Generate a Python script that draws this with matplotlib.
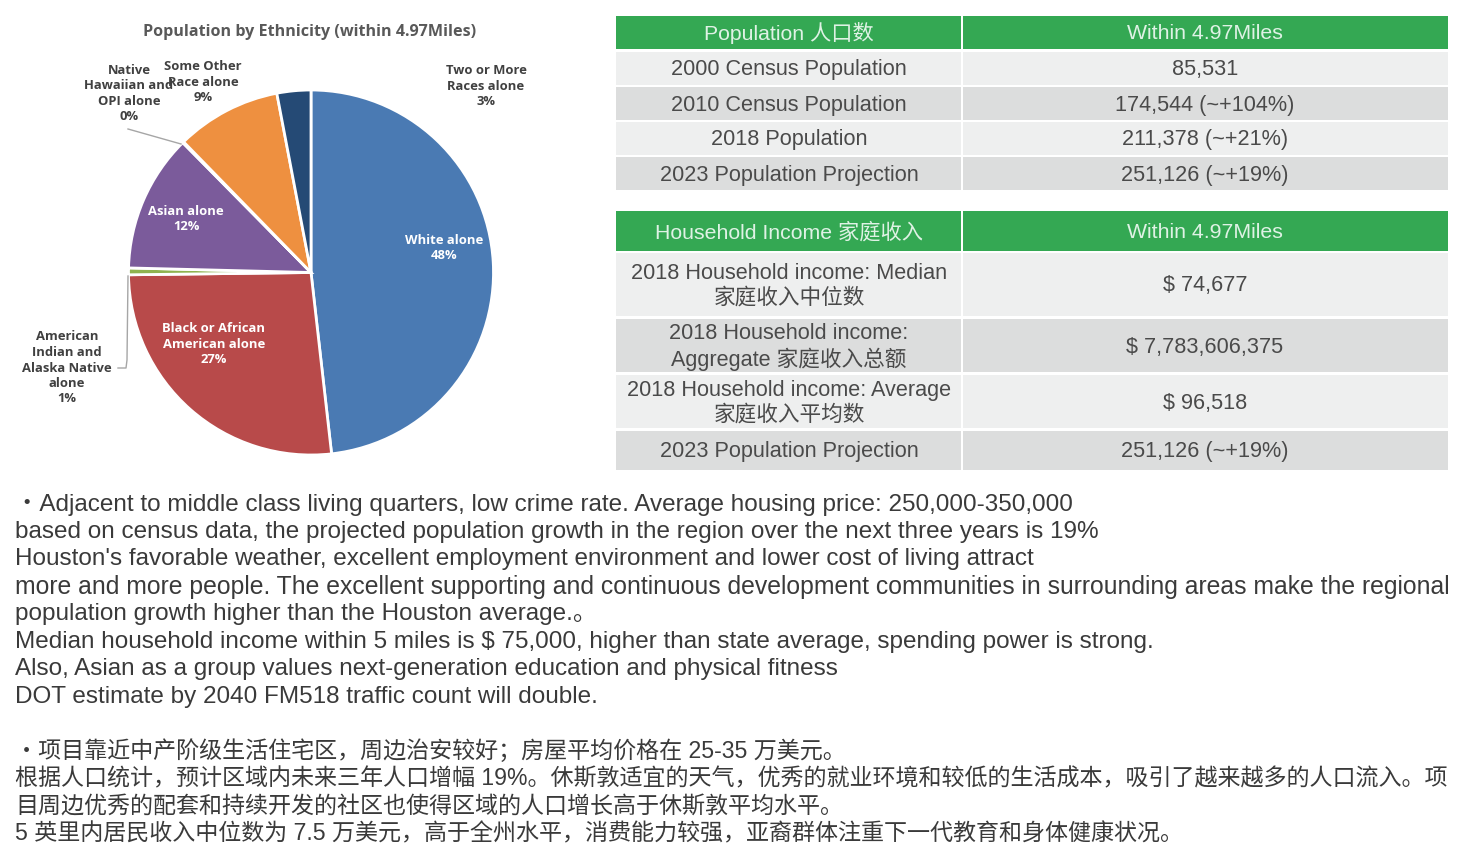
import matplotlib
matplotlib.use('Agg')
import matplotlib.pyplot as plt
from matplotlib.patches import Rectangle

plt.rcParams['font.family'] = ['Liberation Sans', 'Noto Sans CJK SC', 'DejaVu Sans']

# pie data
eth_names = ['White alone', 'Black or African\nAmerican alone', 'American\nIndian and\nAlaska Native\nalone',
             'Asian alone', 'Native\nHawaiian and\nOPI alone', 'Some Other\nRace alone', 'Two or More\nRaces alone']
eth_values = [48.2, 26.6, 0.6, 12.2, 0.1, 9.3, 3.0]
eth_labels = ['48%', '27%', '1%', '12%', '0%', '9%', '3%']
eth_colors = ['#4a7ab3', '#b84a4a', '#8fb350', '#7b5b9b', '#3fa0b8', '#ee9040', '#254a75']

# tables
pop_header = ['Population 人口数', 'Within 4.97Miles']
pop_rows = ['2000 Census Population', '2010 Census Population', '2018 Population', '2023 Population Projection']
pop_vals = ['85,531', '174,544 (~+104%)', '211,378 (~+21%)', '251,126 (~+19%)']
inc_header = ['Household Income 家庭收入', 'Within 4.97Miles']
inc_rows = ['2018 Household income: Median\n家庭收入中位数', '2018 Household income:\nAggregate 家庭收入总额',
            '2018 Household income: Average\n家庭收入平均数', '2023 Population Projection']
inc_vals = ['$ 74,677', '$ 7,783,606,375', '$ 96,518', '251,126 (~+19%)']

body_en = [
    '・Adjacent to middle class living quarters, low crime rate. Average housing price: 250,000-350,000',
    'based on census data, the projected population growth in the region over the next three years is 19%',
    "Houston's favorable weather, excellent employment environment and lower cost of living attract",
    'more and more people. The excellent supporting and continuous development communities in surrounding areas make the regional',
    'population growth higher than the Houston average.。',
    'Median household income within 5 miles is $ 75,000, higher than state average, spending power is strong.',
    'Also, Asian as a group values next-generation education and physical fitness',
    'DOT estimate by 2040 FM518 traffic count will double.',
]
body_zh = [
    '・项目靠近中产阶级生活住宅区，周边治安较好；房屋平均价格在 25-35 万美元。',
    '根据人口统计，预计区域内未来三年人口增幅 19%。休斯敦适宜的天气，优秀的就业环境和较低的生活成本，吸引了越来越多的人口流入。项',
    '目周边优秀的配套和持续开发的社区也使得区域的人口增长高于休斯敦平均水平。',
    '5 英里内居民收入中位数为 7.5 万美元，高于全州水平，消费能力较强，亚裔群体注重下一代教育和身体健康状况。',
]

W, H = 1471, 861
fig = plt.figure(figsize=(W / 100, H / 100), dpi=100)
bg = fig.add_axes([0, 0, 1, 1])
bg.set_xlim(0, W)
bg.set_ylim(H, 0)
bg.axis('off')
bg.set_zorder(2)

# pie, centre 311,272.5 radius 182.5
cx, cy, r = 311, 272.5, 182.5
pie_ax = fig.add_axes([(cx - r) / W, 1 - (cy + r) / H, 2 * r / W, 2 * r / H])
pie_ax.pie(eth_values, colors=eth_colors, startangle=90, counterclock=False, radius=1,
           wedgeprops={'edgecolor': 'white', 'linewidth': 2})
pie_ax.set_xlim(-1, 1)
pie_ax.set_ylim(-1, 1)
for w in pie_ax.patches:
    w.set_clip_on(False)

PIE_FONT = ['Open Sans', 'DejaVu Sans']
bg.text(310, 32, 'Population by Ethnicity (within 4.97Miles)', ha='center', va='center',
        fontsize=11.6, fontweight='bold', color='#595959', family=PIE_FONT)

label_pos = [(444, 248, 'white'), (214, 344, 'white'), (67, 368, '#404040'), (186, 219, 'white'),
             (129, 93.5, '#404040'), (203, 82, '#404040'), (486, 86, '#404040')]
for name, pct, (x, y, c) in zip(eth_names, eth_labels, label_pos):
    bg.text(x, y, name + '\n' + pct, ha='center', va='center', fontsize=9.4, fontweight='bold',
            color=c, family=PIE_FONT, linespacing=1.25, zorder=5)

# leader lines
bg.plot([128, 181], [129, 144], color='#a6a6a6', lw=1)
bg.plot([118, 126, 127, 128], [368, 368, 360, 276], color='#a6a6a6', lw=1)

# tables
X0, X1, X2 = 616, 962, 1448
GREEN = '#34a853'
ROW_A, ROW_B = '#eeefef', '#dcdddd'
TXT = '#4a4a4a'


def header(top, bottom, texts):
    bg.add_patch(Rectangle((X0, top), X1 - X0 - 1, bottom - top, color=GREEN, lw=0))
    bg.add_patch(Rectangle((X1 + 1, top), X2 - X1 - 1, bottom - top, color=GREEN, lw=0))
    mid = (top + bottom) / 2 + 1
    bg.text((X0 + X1) / 2, mid, texts[0], ha='center', va='center', fontsize=15.3, color='#dff2e5')
    bg.text((X1 + X2) / 2, mid, texts[1], ha='center', va='center', fontsize=15.3, color='#dff2e5')


def rows(spans, names, vals):
    for i, ((top, bottom), n, v) in enumerate(zip(spans, names, vals)):
        c = ROW_A if i % 2 == 0 else ROW_B
        bg.add_patch(Rectangle((X0, top), X1 - X0 - 1, bottom - top, color=c, lw=0))
        bg.add_patch(Rectangle((X1 + 1, top), X2 - X1 - 1, bottom - top, color=c, lw=0))
        mid = (top + bottom) / 2 + 1.5
        bg.text((X0 + X1) / 2, mid, n, ha='center', va='center', fontsize=15.6, color=TXT, linespacing=1.2)
        bg.text((X1 + X2) / 2, mid, v, ha='center', va='center', fontsize=15.6, color=TXT)


header(16, 49, pop_header)
rows([(52, 85), (87, 120), (122, 155), (157, 190)], pop_rows, pop_vals)
header(211, 251, inc_header)
rows([(253, 316), (319, 372), (375, 428), (431, 470)], inc_rows, inc_vals)

# body text, the long line is stretched to the right margin in the original
y = 504.5
for i, line in enumerate(body_en):
    size = 17.87 if i == 3 else 17.5
    bg.text(15, y, line, ha='left', va='center', fontsize=size, color='#3a3a3a')
    y += 27.45
y += 27.45
for line in body_zh:
    bg.text(15, y, line, ha='left', va='center', fontsize=16.6, color='#3a3a3a')
    y += 27.45

fig.savefig('out.png', dpi=100)
